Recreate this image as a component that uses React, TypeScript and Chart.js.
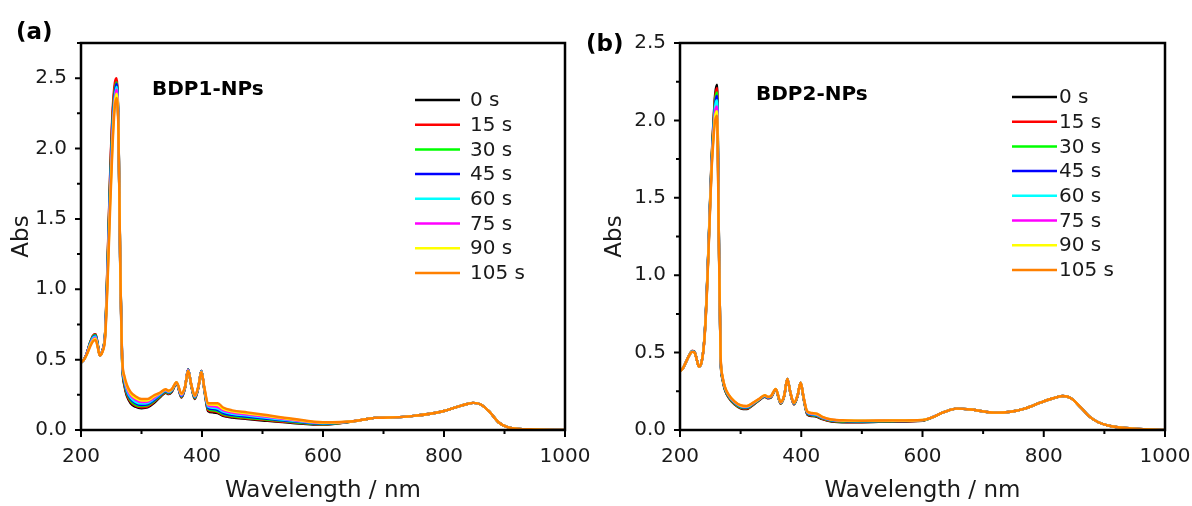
import React, { useEffect, useRef } from "react";
import { Chart, registerables } from "chart.js";

Chart.register(...registerables);

const FONT = "DejaVu Sans";
const TEXT_COLOR = "#1a1a1a";

const TIME_LABELS = ["0 s", "15 s", "30 s", "45 s", "60 s", "75 s", "90 s", "105 s"];
const LINE_COLORS = ["#000000", "#ff0000", "#00ff00", "#0000ff", "#00ffff", "#ff00ff", "#ffff00", "#ff8000"];

// ---------- Panel (a): BDP1-NPs ----------
const WL_A_HEAD = [200, 205, 210, 215, 220, 224, 228, 231, 235, 240, 244, 248, 252, 256, 259, 262, 265, 268, 272, 276, 282, 290, 300, 310, 320, 330, 340, 345, 350, 358, 366, 372, 377, 382, 388, 394, 399, 404, 410, 418, 426, 435, 450, 475, 500, 550, 600];
const A_0S = [0.48, 0.50, 0.55, 0.62, 0.67, 0.68, 0.60, 0.53, 0.56, 0.70, 1.20, 1.78, 2.22, 2.44, 2.48, 2.12, 1.10, 0.48, 0.31, 0.24, 0.19, 0.165, 0.155, 0.16, 0.19, 0.23, 0.265, 0.255, 0.27, 0.33, 0.23, 0.30, 0.43, 0.32, 0.22, 0.30, 0.42, 0.28, 0.135, 0.125, 0.12, 0.10, 0.088, 0.078, 0.068, 0.05, 0.038];
const A_15S = [0.48, 0.50, 0.55, 0.62, 0.67, 0.68, 0.60, 0.53, 0.56, 0.70, 1.22, 1.80, 2.25, 2.47, 2.50, 2.14, 1.11, 0.49, 0.32, 0.25, 0.20, 0.172, 0.162, 0.167, 0.196, 0.235, 0.268, 0.258, 0.273, 0.332, 0.233, 0.302, 0.432, 0.322, 0.224, 0.302, 0.422, 0.282, 0.142, 0.132, 0.126, 0.106, 0.093, 0.082, 0.072, 0.053, 0.040];
const A_30S = [0.48, 0.50, 0.55, 0.62, 0.665, 0.675, 0.597, 0.53, 0.558, 0.695, 1.18, 1.75, 2.19, 2.42, 2.47, 2.13, 1.12, 0.49, 0.33, 0.26, 0.21, 0.18, 0.17, 0.175, 0.203, 0.24, 0.272, 0.262, 0.277, 0.334, 0.237, 0.304, 0.43, 0.323, 0.228, 0.304, 0.42, 0.284, 0.15, 0.14, 0.133, 0.113, 0.099, 0.087, 0.077, 0.057, 0.042];
const A_45S = [0.48, 0.50, 0.55, 0.615, 0.66, 0.67, 0.593, 0.53, 0.557, 0.69, 1.16, 1.72, 2.16, 2.40, 2.46, 2.13, 1.12, 0.50, 0.34, 0.27, 0.22, 0.19, 0.178, 0.183, 0.21, 0.246, 0.276, 0.266, 0.28, 0.336, 0.241, 0.306, 0.43, 0.325, 0.232, 0.306, 0.42, 0.287, 0.158, 0.148, 0.142, 0.12, 0.106, 0.094, 0.083, 0.061, 0.045];
const A_60S = [0.48, 0.50, 0.545, 0.61, 0.655, 0.665, 0.59, 0.53, 0.555, 0.685, 1.14, 1.68, 2.12, 2.37, 2.44, 2.12, 1.13, 0.50, 0.35, 0.28, 0.23, 0.20, 0.188, 0.192, 0.218, 0.252, 0.28, 0.27, 0.283, 0.337, 0.245, 0.307, 0.428, 0.327, 0.236, 0.307, 0.418, 0.29, 0.166, 0.158, 0.152, 0.13, 0.115, 0.102, 0.09, 0.066, 0.048];
const A_75S = [0.48, 0.50, 0.545, 0.605, 0.645, 0.655, 0.587, 0.53, 0.553, 0.678, 1.11, 1.64, 2.08, 2.35, 2.42, 2.11, 1.13, 0.51, 0.36, 0.295, 0.245, 0.215, 0.198, 0.201, 0.226, 0.257, 0.284, 0.274, 0.286, 0.338, 0.25, 0.308, 0.425, 0.328, 0.24, 0.308, 0.415, 0.293, 0.174, 0.168, 0.163, 0.14, 0.124, 0.11, 0.097, 0.071, 0.051];
const A_90S = [0.48, 0.50, 0.54, 0.60, 0.638, 0.648, 0.583, 0.53, 0.551, 0.67, 1.08, 1.60, 2.04, 2.33, 2.39, 2.11, 1.14, 0.51, 0.37, 0.308, 0.258, 0.228, 0.21, 0.21, 0.236, 0.261, 0.287, 0.277, 0.288, 0.339, 0.255, 0.309, 0.422, 0.329, 0.243, 0.309, 0.412, 0.296, 0.182, 0.18, 0.177, 0.15, 0.132, 0.118, 0.104, 0.076, 0.053];
const A_105S = [0.48, 0.50, 0.54, 0.59, 0.63, 0.64, 0.58, 0.53, 0.55, 0.66, 1.05, 1.55, 2.00, 2.30, 2.36, 2.10, 1.15, 0.52, 0.38, 0.32, 0.27, 0.24, 0.22, 0.22, 0.245, 0.265, 0.29, 0.28, 0.29, 0.34, 0.26, 0.31, 0.42, 0.33, 0.245, 0.31, 0.41, 0.30, 0.19, 0.19, 0.19, 0.16, 0.14, 0.125, 0.11, 0.08, 0.055];
const WL_A_TAIL = [650, 675, 685, 700, 750, 800, 830, 848, 860, 875, 890, 905, 920, 950, 1000];
const A_TAIL = [0.062, 0.08, 0.086, 0.087, 0.10, 0.135, 0.175, 0.193, 0.183, 0.13, 0.055, 0.02, 0.01, 0.004, 0.0];

// ---------- Panel (b): BDP2-NPs ----------
const WL_B_HEAD = [200, 205, 210, 215, 220, 224, 228, 231, 235, 240, 244, 248, 252, 256, 258, 261, 264, 267, 270, 274, 280, 290, 300, 310, 320, 330, 340, 345, 350, 358, 366, 372, 377, 382, 388, 394, 399, 404, 410, 418, 426, 435, 450, 475, 500, 550, 600];
const B_0S = [0.38, 0.40, 0.44, 0.48, 0.51, 0.505, 0.45, 0.41, 0.43, 0.58, 0.88, 1.30, 1.74, 2.05, 2.17, 2.23, 1.30, 0.45, 0.33, 0.26, 0.21, 0.165, 0.14, 0.135, 0.16, 0.19, 0.215, 0.205, 0.21, 0.26, 0.17, 0.22, 0.33, 0.24, 0.165, 0.22, 0.305, 0.20, 0.10, 0.09, 0.085, 0.07, 0.055, 0.05, 0.05, 0.055, 0.06];
const B_15S = [0.38, 0.40, 0.44, 0.48, 0.51, 0.505, 0.45, 0.41, 0.43, 0.58, 0.875, 1.29, 1.73, 2.04, 2.15, 2.21, 1.30, 0.455, 0.333, 0.263, 0.213, 0.168, 0.143, 0.138, 0.162, 0.192, 0.216, 0.206, 0.211, 0.261, 0.171, 0.221, 0.33, 0.241, 0.166, 0.221, 0.305, 0.201, 0.103, 0.093, 0.088, 0.072, 0.057, 0.052, 0.052, 0.056, 0.061];
const B_30S = [0.38, 0.40, 0.44, 0.48, 0.509, 0.504, 0.45, 0.41, 0.43, 0.578, 0.87, 1.285, 1.72, 2.02, 2.13, 2.18, 1.29, 0.46, 0.336, 0.266, 0.216, 0.171, 0.146, 0.141, 0.165, 0.194, 0.218, 0.208, 0.213, 0.262, 0.173, 0.222, 0.33, 0.242, 0.168, 0.222, 0.305, 0.203, 0.106, 0.096, 0.091, 0.075, 0.059, 0.054, 0.054, 0.057, 0.062];
const B_45S = [0.38, 0.40, 0.44, 0.48, 0.508, 0.503, 0.45, 0.41, 0.43, 0.576, 0.865, 1.28, 1.71, 2.00, 2.11, 2.16, 1.28, 0.465, 0.34, 0.27, 0.22, 0.175, 0.15, 0.145, 0.168, 0.196, 0.22, 0.21, 0.215, 0.263, 0.175, 0.223, 0.33, 0.243, 0.17, 0.223, 0.305, 0.205, 0.109, 0.099, 0.094, 0.078, 0.062, 0.057, 0.056, 0.058, 0.063];
const B_60S = [0.38, 0.40, 0.44, 0.48, 0.507, 0.502, 0.45, 0.41, 0.43, 0.575, 0.86, 1.275, 1.70, 1.98, 2.09, 2.13, 1.27, 0.47, 0.343, 0.273, 0.223, 0.178, 0.153, 0.148, 0.17, 0.197, 0.221, 0.211, 0.216, 0.264, 0.177, 0.224, 0.33, 0.244, 0.172, 0.224, 0.305, 0.207, 0.112, 0.102, 0.097, 0.08, 0.064, 0.059, 0.058, 0.059, 0.064];
const B_75S = [0.38, 0.40, 0.44, 0.48, 0.506, 0.501, 0.45, 0.41, 0.43, 0.573, 0.855, 1.265, 1.69, 1.96, 2.06, 2.09, 1.26, 0.475, 0.346, 0.276, 0.226, 0.181, 0.156, 0.151, 0.172, 0.198, 0.222, 0.212, 0.217, 0.264, 0.178, 0.224, 0.33, 0.244, 0.173, 0.224, 0.305, 0.208, 0.115, 0.105, 0.10, 0.082, 0.066, 0.06, 0.059, 0.06, 0.064];
const B_90S = [0.38, 0.40, 0.44, 0.48, 0.505, 0.50, 0.45, 0.41, 0.43, 0.572, 0.85, 1.26, 1.68, 1.94, 2.03, 2.06, 1.25, 0.48, 0.348, 0.278, 0.228, 0.183, 0.158, 0.153, 0.174, 0.199, 0.224, 0.214, 0.219, 0.265, 0.179, 0.225, 0.33, 0.245, 0.174, 0.225, 0.305, 0.209, 0.118, 0.108, 0.103, 0.084, 0.067, 0.061, 0.06, 0.061, 0.065];
const B_105S = [0.38, 0.40, 0.44, 0.48, 0.505, 0.50, 0.45, 0.41, 0.43, 0.57, 0.845, 1.25, 1.67, 1.92, 2.00, 2.03, 1.24, 0.485, 0.35, 0.28, 0.23, 0.185, 0.16, 0.155, 0.175, 0.20, 0.225, 0.215, 0.22, 0.265, 0.18, 0.225, 0.33, 0.245, 0.175, 0.225, 0.305, 0.21, 0.12, 0.11, 0.105, 0.085, 0.068, 0.062, 0.06, 0.062, 0.065];
const WL_B_TAIL = [615, 635, 656, 680, 700, 722, 745, 770, 795, 815, 831, 845, 860, 875, 890, 905, 925, 950, 1000];
const B_TAIL = [0.08, 0.115, 0.138, 0.132, 0.12, 0.112, 0.118, 0.14, 0.178, 0.205, 0.22, 0.205, 0.15, 0.088, 0.05, 0.03, 0.016, 0.008, 0.0];

type PanelCfg = {
  headWl: number[];
  heads: number[][];
  tailWl: number[];
  tail: number[];
  yMax: number;
  padRight: number;
  padTop: number;
  yAxisWidth: number;
  xAxisHeight: number;
  yTitlePad: number;
  legend: { x1: number; x2: number; textX: number; y0: number; dy: number };
  note: { text: string; x: number; y: number };
};

const PANEL_A: PanelCfg = {
  headWl: WL_A_HEAD,
  heads: [A_0S, A_15S, A_30S, A_45S, A_60S, A_75S, A_90S, A_105S],
  tailWl: WL_A_TAIL,
  tail: A_TAIL,
  yMax: 2.75,
  padRight: 31,
  padTop: 43,
  yAxisWidth: 81,
  xAxisHeight: 76,
  yTitlePad: 8,
  legend: { x1: 415, x2: 460, textX: 470, y0: 100, dy: 24.7 },
  note: { text: "BDP1-NPs", x: 152, y: 90 },
};

const PANEL_B: PanelCfg = {
  headWl: WL_B_HEAD,
  heads: [B_0S, B_15S, B_30S, B_45S, B_60S, B_75S, B_90S, B_105S],
  tailWl: WL_B_TAIL,
  tail: B_TAIL,
  yMax: 2.5,
  padRight: 27,
  padTop: 43,
  yAxisWidth: 84,
  xAxisHeight: 76,
  yTitlePad: 5,
  legend: { x1: 416, x2: 461, textX: 463, y0: 97, dy: 24.7 },
  note: { text: "BDP2-NPs", x: 160, y: 95 },
};

function Panel({ cfg, left }: { cfg: PanelCfg; left: number }) {
  const ref = useRef<HTMLCanvasElement | null>(null);
  useEffect(() => {
    if (!ref.current) return;
    const n = TIME_LABELS.length;
    const datasets = cfg.heads.map((h, i) => ({
      label: TIME_LABELS[i],
      data: cfg.headWl
        .map((x, j) => ({ x, y: h[j] }))
        .concat(cfg.tailWl.map((x, j) => ({ x, y: cfg.tail[j] }))),
      borderColor: LINE_COLORS[i],
      backgroundColor: LINE_COLORS[i],
      borderWidth: 2.4,
      pointRadius: 0,
      fill: false,
      cubicInterpolationMode: "monotone" as const,
      order: n - 1 - i,
    }));

    const decor = {
      id: "decor",
      afterDraw(chart: any) {
        const ctx = chart.ctx as CanvasRenderingContext2D;
        const { left: L, right: R, top: T, bottom: B } = chart.chartArea;
        const xs = chart.scales.x;
        const ys = chart.scales.y;
        ctx.save();
        ctx.strokeStyle = "#000";
        ctx.lineWidth = 2.5;
        ctx.strokeRect(L, T, R - L, B - T);
        ctx.lineWidth = 2;
        ctx.beginPath();
        for (let v = 200; v <= 1000; v += 100) {
          const px = xs.getPixelForValue(v);
          const len = v % 200 === 0 ? 7 : 4;
          ctx.moveTo(px, B);
          ctx.lineTo(px, B + len);
        }
        for (let k = 0; k * 0.25 <= cfg.yMax + 1e-6; k++) {
          const py = ys.getPixelForValue(k * 0.25);
          const len = k % 2 === 0 ? 6 : 4;
          ctx.moveTo(L, py);
          ctx.lineTo(L - len, py);
        }
        ctx.stroke();

        // legend
        const lg = cfg.legend;
        ctx.font = `20px "${FONT}"`;
        ctx.textBaseline = "middle";
        ctx.textAlign = "left";
        TIME_LABELS.forEach((lab, i) => {
          const y = lg.y0 + i * lg.dy;
          ctx.strokeStyle = LINE_COLORS[i];
          ctx.lineWidth = 2.5;
          ctx.beginPath();
          ctx.moveTo(lg.x1, y);
          ctx.lineTo(lg.x2, y);
          ctx.stroke();
          ctx.fillStyle = TEXT_COLOR;
          ctx.fillText(lab, lg.textX, y + 1);
        });

        // sample name
        ctx.font = `bold 20px "${FONT}"`;
        ctx.fillStyle = "#000";
        ctx.fillText(cfg.note.text, cfg.note.x, cfg.note.y);
        ctx.restore();
      },
    };

    const chart = new Chart(ref.current, {
      type: "line",
      data: { datasets: datasets as any },
      options: {
        animation: false,
        responsive: true,
        maintainAspectRatio: false,
        layout: { padding: { left: 0, top: cfg.padTop, right: cfg.padRight, bottom: 0 } },
        plugins: { legend: { display: false }, tooltip: { enabled: false } },
        scales: {
          x: {
            type: "linear",
            min: 200,
            max: 1000,
            grid: { display: false, drawTicks: false },
            border: { display: false },
            ticks: {
              stepSize: 200,
              padding: 15,
              color: TEXT_COLOR,
              font: { family: FONT, size: 20 },
              maxRotation: 0,
              autoSkip: false,
              callback: (v: any) => String(v),
            },
            title: {
              display: true,
              text: "Wavelength / nm",
              color: TEXT_COLOR,
              font: { family: FONT, size: 23 },
              padding: { top: 0, bottom: 1 },
            },
            afterFit: (s: any) => {
              s.height = cfg.xAxisHeight;
              s.paddingLeft = 0;
              s.paddingRight = 0;
            },
          },
          y: {
            type: "linear",
            min: 0,
            max: cfg.yMax,
            grid: { display: false, drawTicks: false },
            border: { display: false },
            ticks: {
              stepSize: 0.5,
              includeBounds: false,
              padding: 14,
              color: TEXT_COLOR,
              font: { family: FONT, size: 20 },
              callback: (v: any) => (Math.abs((v * 2) % 1) < 1e-6 ? Number(v).toFixed(1) : ""),
            },
            title: {
              display: true,
              text: "Abs",
              color: TEXT_COLOR,
              font: { family: FONT, size: 23 },
              padding: { top: cfg.yTitlePad, bottom: 0 },
            },
            afterFit: (s: any) => {
              s.width = cfg.yAxisWidth;
              s.paddingTop = 0;
              s.paddingBottom = 0;
            },
          },
        },
      } as any,
      plugins: [decor],
    });
    return () => chart.destroy();
  }, [cfg]);

  return (
    <div style={{ position: "absolute", left, top: 0, width: 596, height: 506 }}>
      <canvas ref={ref} />
    </div>
  );
}

const panelLabelStyle: React.CSSProperties = {
  position: "absolute",
  fontFamily: FONT,
  fontWeight: "bold",
  fontSize: 23,
  lineHeight: "23px",
  color: "#000",
  whiteSpace: "nowrap",
};

export default function App() {
  return (
    <div
      style={{
        position: "fixed",
        left: 0,
        top: 0,
        width: 1192,
        height: 506,
        background: "#fff",
        overflow: "hidden",
      }}
    >
      <Panel cfg={PANEL_A} left={0} />
      <Panel cfg={PANEL_B} left={596} />
      <div style={{ ...panelLabelStyle, left: 16, top: 20 }}>(a)</div>
      <div style={{ ...panelLabelStyle, left: 586, top: 32 }}>(b)</div>
    </div>
  );
}
